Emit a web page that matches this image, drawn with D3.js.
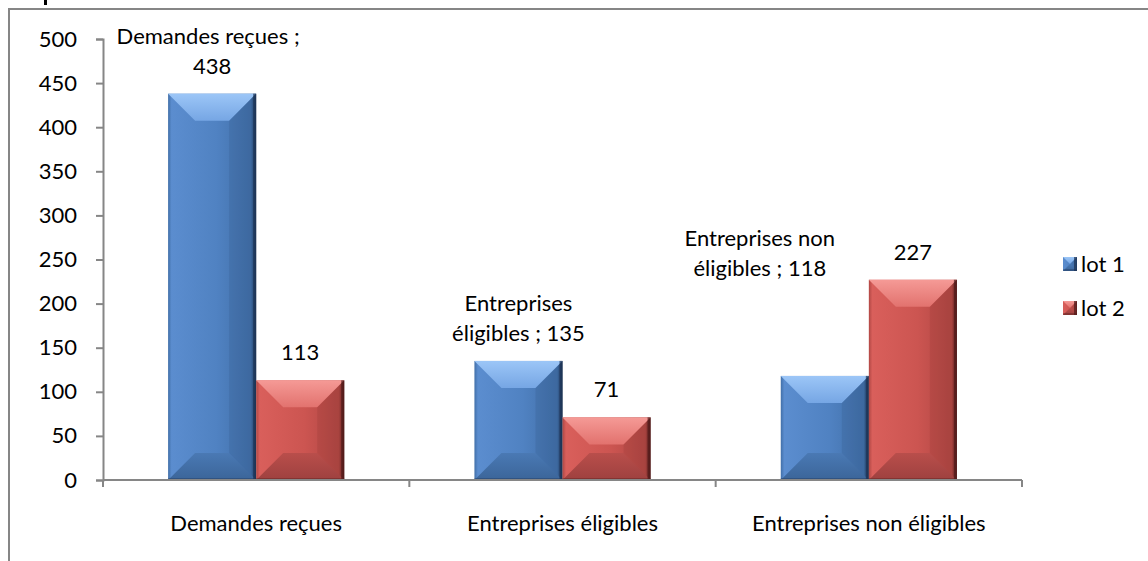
<!DOCTYPE html>
<html>
<head>
<meta charset="utf-8">
<script src="https://cdn.jsdelivr.net/npm/d3@7"></script>
<style>
  body { margin: 0; background: #fff; }
  svg { display: block; font-family: Lato, "Open Sans", sans-serif; }
</style>
</head>
<body>
<svg id="chart" width="1148" height="561"></svg>
<script>
// data
const categories = ['Demandes reçues', 'Entreprises éligibles', 'Entreprises non éligibles'];
const seriesNames = ['lot 1', 'lot 2'];
const lot1 = [438, 135, 118];
const lot2 = [113, 71, 227];
const yTicks = [0, 50, 100, 150, 200, 250, 300, 350, 400, 450, 500];
// how Excel wrapped the lot 1 labels ("category ; value")
const lot1Lines = [
  ['Demandes reçues ;', '438'],
  ['Entreprises', 'éligibles ; 135'],
  ['Entreprises non', 'éligibles ; 118']
];

const width = 1148, height = 561;
const margin = { left: 103, right: 126, top: 39, bottom: 81 };
const svg = d3.select('#chart');
const axisColor = '#868686';
const fontSize = 22;

// outer frame (cut off at right and bottom)
svg.append('path')
  .attr('d', `M9,${height} L9,9 L${width},9`)
  .attr('fill', 'none')
  .attr('stroke', axisColor)
  .attr('stroke-width', 2);

// bit of the cut-off title above the frame
svg.append('rect')
  .attr('x', 44).attr('y', 0).attr('width', 3).attr('height', 5)
  .attr('fill', '#000');

const x0 = d3.scaleBand()
  .domain(categories)
  .range([margin.left, width - margin.right])
  .paddingInner(0.425)
  .paddingOuter(0.2125);

const x1 = d3.scaleBand()
  .domain(seriesNames)
  .range([0, x0.bandwidth()]);

const y = d3.scaleLinear()
  .domain([0, 500])
  .range([height - margin.bottom, margin.top]);

// gradients
const defs = svg.append('defs');
const palettes = {
  'lot 1': { face: ['#5b8dcf', '#5082c2', '#416fa8', '#1c3252'],
             top: ['#9cc6f7', '#76a6e4'], bottom: ['#3b6599', '#4a79b4'],
             right: '#2f4f7a' },
  'lot 2': { face: ['#d95f5b', '#cc5551', '#b04744', '#4f1a19'],
             top: ['#f59a96', '#e2726e'], bottom: ['#9e413f', '#b94e4b'],
             right: '#85312f' }
};
seriesNames.forEach((s, i) => {
  const p = palettes[s];
  const g = defs.append('linearGradient').attr('id', 'face' + i)
    .attr('x1', 0).attr('x2', 1).attr('y1', 0).attr('y2', 0);
  g.append('stop').attr('offset', '0%').attr('stop-color', p.face[2]);
  g.append('stop').attr('offset', '4%').attr('stop-color', p.face[0]);
  g.append('stop').attr('offset', '55%').attr('stop-color', p.face[1]);
  g.append('stop').attr('offset', '94%').attr('stop-color', p.face[2]);
  g.append('stop').attr('offset', '100%').attr('stop-color', p.face[3]);
  const t = defs.append('linearGradient').attr('id', 'top' + i)
    .attr('x1', 0).attr('x2', 0).attr('y1', 0).attr('y2', 1);
  t.append('stop').attr('offset', '0%').attr('stop-color', p.top[0]);
  t.append('stop').attr('offset', '100%').attr('stop-color', p.top[1]);
  const b = defs.append('linearGradient').attr('id', 'bot' + i)
    .attr('x1', 0).attr('x2', 0).attr('y1', 1).attr('y2', 0);
  b.append('stop').attr('offset', '0%').attr('stop-color', p.bottom[0]);
  b.append('stop').attr('offset', '100%').attr('stop-color', p.bottom[1]);
});

// draw bevelled bar
function bevelBar(g, x, yTop, w, h, i) {
  const p = palettes[seriesNames[i]];
  const b = Math.min(27, h / 2, w / 2);
  const yb = yTop + h;
  g.append('rect').attr('x', x).attr('y', yTop).attr('width', w).attr('height', h)
    .attr('fill', `url(#face${i})`);
  g.append('polygon')
    .attr('points', [[x, yTop], [x + w, yTop], [x + w - b, yTop + b], [x + b, yTop + b]].join(' '))
    .attr('fill', `url(#top${i})`);
  g.append('polygon')
    .attr('points', [[x, yb], [x + w, yb], [x + w - b, yb - b], [x + b, yb - b]].join(' '))
    .attr('fill', `url(#bot${i})`);
  g.append('polygon')
    .attr('points', [[x + w, yTop], [x + w, yb], [x + w - b, yb - b], [x + w - b, yTop + b]].join(' '))
    .attr('fill', p.right).attr('opacity', 0.18);
  g.append('rect').attr('x', x + w - 3).attr('y', yTop).attr('width', 3).attr('height', h)
    .attr('fill', p.face[3]).attr('opacity', 0.7);
  g.append('rect').attr('x', x).attr('y', yb - 2).attr('width', w).attr('height', 2)
    .attr('fill', p.face[3]).attr('opacity', 0.35);
}

const series = [lot1, lot2];
const bars = svg.append('g');
categories.forEach((c, ci) => {
  series.forEach((vals, si) => {
    const x = x0(c) + x1(seriesNames[si]);
    bevelBar(bars, x, y(vals[ci]), x1.bandwidth(), y(0) - y(vals[ci]), si);
  });
});

// y axis
const yAxis = svg.append('g')
  .attr('transform', `translate(${margin.left},0)`)
  .call(d3.axisLeft(y).tickValues(yTicks).tickSize(7).tickPadding(19));
yAxis.select('.domain').attr('stroke', axisColor).attr('stroke-width', 2);
yAxis.selectAll('.tick line').attr('stroke', axisColor).attr('stroke-width', 2);
yAxis.selectAll('.tick text')
  .attr('font-size', fontSize).attr('fill', '#000')
  .style('font-family', 'Lato, sans-serif');

// x axis with ticks between categories
const xAxisG = svg.append('g').attr('transform', `translate(0,${y(0)})`);
xAxisG.append('line')
  .attr('x1', margin.left).attr('x2', width - margin.right)
  .attr('stroke', axisColor).attr('stroke-width', 2);
const step = x0.step();
const boundaries = d3.range(categories.length + 1).map(i => margin.left + i * step);
xAxisG.selectAll('.xt').data(boundaries).join('line')
  .attr('x1', d => d).attr('x2', d => d)
  .attr('y1', 0).attr('y2', 7)
  .attr('stroke', axisColor).attr('stroke-width', 2);
xAxisG.selectAll('.xl').data(categories).join('text')
  .attr('x', d => x0(d) + x0.bandwidth() / 2)
  .attr('y', 51)
  .attr('text-anchor', 'middle')
  .attr('font-size', fontSize)
  .text(d => d);

// data labels; the third lot 1 label was dragged up and left in the original
const labelNudge = [[-4, 0], [0, 0], [-65, -80]];
const labels = svg.append('g').attr('font-size', fontSize).attr('text-anchor', 'middle');
categories.forEach((c, ci) => {
  const cx1 = x0(c) + x1('lot 1') + x1.bandwidth() / 2 + labelNudge[ci][0];
  const lines = lot1Lines[ci];
  const base = y(lot1[ci]) - 20 + labelNudge[ci][1];
  lines.forEach((ln, li) => {
    labels.append('text')
      .attr('x', li === lines.length - 1 && ci === 0 ? cx1 + 4 : cx1)
      .attr('y', base - (lines.length - 1 - li) * 30)
      .text(ln);
  });
  labels.append('text')
    .attr('x', x0(c) + x1('lot 2') + x1.bandwidth() / 2)
    .attr('y', y(lot2[ci]) - 20)
    .text(lot2[ci]);
});

// legend
const legend = svg.append('g').attr('transform', 'translate(1063,257)');
seriesNames.forEach((s, i) => {
  const g = legend.append('g').attr('transform', `translate(0,${i * 44})`);
  bevelBar(g, 0, 0, 14, 14, i);
  g.append('text').attr('x', 18).attr('y', 15)
    .attr('font-size', fontSize).text(s);
});
</script>
</body>
</html>
